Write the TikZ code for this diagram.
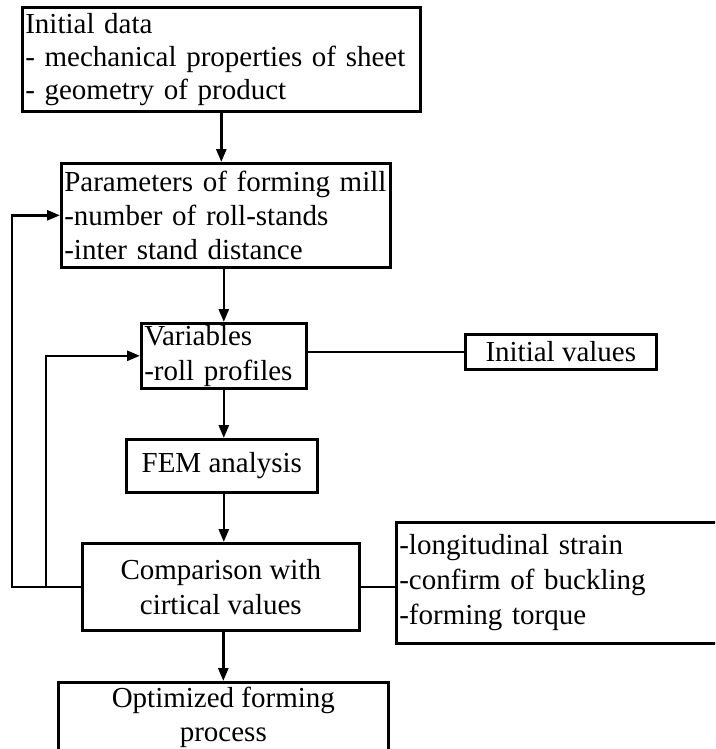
\documentclass[tikz,border=0pt]{standalone}
\usepackage{fontspec}
\setmainfont{Liberation Serif}
\usetikzlibrary{arrows.meta}
\begin{document}
\begin{tikzpicture}[x=1pt,y=1pt,
  box/.style={draw, line width=2.6pt, inner xsep=3pt, inner ysep=0pt, anchor=north west,
    font=\fontsize{29}{33}\selectfont},
  lbox/.style={box, align=left},
  cbox/.style={box, align=center},
  conn/.style={line width=2.6pt},
  arr/.style={conn, -{Triangle[length=13pt,width=10pt]}}]
\useasboundingbox (0,0) rectangle (715,-749);
\clip (0,0) rectangle (715,-749);
\node[lbox, minimum width=398pt, minimum height=104pt, text width=392pt] (b1) at (21,-6)
  {Initial data\\- mechanical properties of sheet\\- geometry of product};
\node[lbox, minimum width=329pt, minimum height=104pt, text width=323pt,
  font=\fontsize{29}{34}\selectfont] (b2) at (60,-162)
  {Parameters of forming mill\\-number of roll-stands\\-inter stand distance};
\node[lbox, minimum width=165pt, minimum height=65pt, text width=159pt,
  font=\fontsize{29}{35}\selectfont] (var) at (140,-322)
  {Variables\\-roll profiles};
\node[cbox, minimum width=191pt, minimum height=35pt] (iv) at (464,-333) {Initial values};
\node[cbox, minimum width=191pt, minimum height=53pt] (fem) at (125,-438) {FEM analysis};
\node[cbox, minimum width=277pt, minimum height=87pt, font=\fontsize{29}{35}\selectfont] (cmp) at (81,-542)
  {Comparison with\\cirtical values};
\node[lbox, minimum width=340pt, minimum height=121pt, text width=334pt,
  font=\fontsize{29}{35}\selectfont] (rb) at (395,-521)
  {-longitudinal strain\\-confirm of buckling\\-forming torque};
\node[cbox, minimum width=330pt, minimum height=70pt, font=\fontsize{29}{34}\selectfont] (opt) at (57,-681)
  {Optimized forming\\process};
\coordinate (lo) at (12,-585);
\coordinate (li) at (46,-585);
\draw[arr] (b1.south) -- (b1.south |- b2.north);
\draw[arr] (var.north |- b2.south) -- (var.north);
\draw[arr] (var.south) -- (var.south |- fem.north);
\draw[arr] (var.south |- fem.south) -- (var.south |- cmp.north);
\draw[arr] (opt.north |- cmp.south) -- (opt.north);
\draw[conn] (var.east |- iv.west) -- (iv.west);
\draw[conn] (cmp.east) -- (cmp.east -| rb.west);
\draw[arr] (cmp.west) -- (cmp.west -| lo) |- (b2.west);
\draw[arr] (cmp.west -| li) |- (var.west);
\end{tikzpicture}
\end{document}
